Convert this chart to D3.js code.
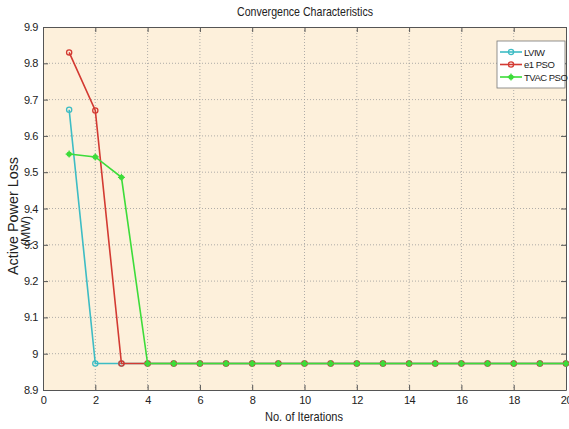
<!DOCTYPE html>
<html>
<head>
<meta charset="utf-8">
<script src="https://cdn.jsdelivr.net/npm/d3@7"></script>
<style>
  body { margin: 0; background: #fff; }
  text { font-family: 'Liberation Sans', Arial, sans-serif; fill: #222; }
</style>
</head>
<body>
<svg id="chart" width="569" height="429"></svg>
<script>
// 迭代次数
var iterations = d3.range(1, 21);
// 各算法的有功损耗
var lviw  = [9.672, 8.973, 8.973, 8.973, 8.973, 8.973, 8.973, 8.973, 8.973, 8.973,
             8.973, 8.973, 8.973, 8.973, 8.973, 8.973, 8.973, 8.973, 8.973, 8.973];
var e1pso = [9.830, 9.670, 8.973, 8.973, 8.973, 8.973, 8.973, 8.973, 8.973, 8.973,
             8.973, 8.973, 8.973, 8.973, 8.973, 8.973, 8.973, 8.973, 8.973, 8.973];
var tvac  = [9.550, 9.542, 9.486, 8.973, 8.973, 8.973, 8.973, 8.973, 8.973, 8.973,
             8.973, 8.973, 8.973, 8.973, 8.973, 8.973, 8.973, 8.973, 8.973, 8.973];
var seriesNames = ['LVIW', 'e1 PSO', 'TVAC PSO'];
var xTicks = d3.range(0, 21, 2);
var yTicks = [8.9, 9, 9.1, 9.2, 9.3, 9.4, 9.5, 9.6, 9.7, 9.8, 9.9];

var svg = d3.select('#chart');
var pL = 43, pR = 566, pT = 27, pB = 390;

var x = d3.scaleLinear().domain([0, 20]).range([pL, pR]);
var y = d3.scaleLinear().domain([8.9, 9.9]).range([pB, pT]);

var series = [
    {name: seriesNames[0], values: lviw, color: '#3dbcc4', marker: 'o'},
    {name: seriesNames[1], values: e1pso, color: '#d33a32', marker: 'o'},
    {name: seriesNames[2], values: tvac, color: '#3ddc3a', marker: '*'}
];

// 绘图区背景
svg.append('rect')
    .attr('x', pL).attr('y', pT)
    .attr('width', pR - pL).attr('height', pB - pT)
    .attr('fill', '#fdf0db');

// 网格线
var grid = svg.append('g');
grid.selectAll('.gx').data(xTicks.slice(1, -1)).enter().append('line')
    .attr('x1', function (d) { return x(d); }).attr('x2', function (d) { return x(d); })
    .attr('y1', pT).attr('y2', pB)
    .attr('stroke', '#9a9a9a').attr('stroke-width', 0.8)
    .attr('stroke-dasharray', '1,2');
grid.selectAll('.gy').data(yTicks.slice(1, -1)).enter().append('line')
    .attr('x1', pL).attr('x2', pR)
    .attr('y1', function (d) { return y(d); }).attr('y2', function (d) { return y(d); })
    .attr('stroke', '#9a9a9a').attr('stroke-width', 0.8)
    .attr('stroke-dasharray', '1,2');

// 坐标轴
var xAxis = d3.axisBottom(x).tickValues(xTicks).tickSizeInner(-5).tickSizeOuter(0).tickPadding(6);
var yAxis = d3.axisLeft(y).tickValues(yTicks).tickSizeInner(-5).tickSizeOuter(0).tickPadding(5)
    .tickFormat(function (d) { return String(+d.toFixed(1)); });
var xTop = d3.axisTop(x).tickValues(xTicks).tickSizeInner(-5).tickSizeOuter(0).tickFormat('');
var yRight = d3.axisRight(y).tickValues(yTicks).tickSizeInner(-5).tickSizeOuter(0).tickFormat('');

function styleAxis(g) {
    g.select('.domain').attr('stroke', '#555');
    g.selectAll('.tick line').attr('stroke', '#555');
    g.selectAll('.tick text').attr('font-size', 11).attr('fill', '#222')
        .attr('font-family', "'Liberation Sans', Arial, sans-serif")
        .attr('letter-spacing', -0.4);
}
svg.append('g').attr('transform', 'translate(0,' + pB + ')').call(xAxis).call(styleAxis);
svg.append('g').attr('transform', 'translate(' + pL + ',0)').call(yAxis).call(styleAxis);
svg.append('g').attr('transform', 'translate(0,' + pT + ')').call(xTop).call(styleAxis);
svg.append('g').attr('transform', 'translate(' + pR + ',0)').call(yRight).call(styleAxis);

// 折线
var line = d3.line()
    .x(function (d, i) { return x(iterations[i]); })
    .y(function (d) { return y(d); });

function drawMarker(g, cx, cy, s) {
    if (s.marker === 'o') {
        g.append('circle').attr('cx', cx).attr('cy', cy).attr('r', 2.6)
            .attr('fill', 'none').attr('stroke', s.color).attr('stroke-width', 1.3);
    } else {
        g.append('circle').attr('cx', cx).attr('cy', cy).attr('r', 2.6)
            .attr('fill', s.color);
        g.append('path')
            .attr('d', 'M' + (cx - 3.5) + ',' + cy + 'H' + (cx + 3.5) + 'M' + cx + ',' + (cy - 3.5) + 'V' + (cy + 3.5))
            .attr('stroke', s.color).attr('stroke-width', 1.2);
    }
}

series.forEach(function (s) {
    var g = svg.append('g');
    g.append('path')
        .attr('d', line(s.values))
        .attr('fill', 'none')
        .attr('stroke', s.color)
        .attr('stroke-width', 1.6);
    s.values.forEach(function (v, i) {
        drawMarker(g, x(iterations[i]), y(v), s);
    });
});

// 图例
var lg = svg.append('g');
lg.append('rect').attr('x', 497).attr('y', 41).attr('width', 68).attr('height', 47)
    .attr('fill', '#fff').attr('stroke', '#777').attr('stroke-width', 0.8);
series.forEach(function (s, i) {
    var ly = 52 + i * 12.5;
    lg.append('line').attr('x1', 500).attr('x2', 522).attr('y1', ly).attr('y2', ly)
        .attr('stroke', s.color).attr('stroke-width', 1.6);
    drawMarker(lg, 511, ly, s);
    lg.append('text').attr('x', 524).attr('y', ly + 3.5)
        .attr('font-size', 9.5).attr('letter-spacing', -0.5)
        .text(s.name);
});

// 标题和轴标签
svg.append('text').attr('x', 305).attr('y', 16).attr('text-anchor', 'middle')
    .attr('font-size', 13).attr('textLength', 136).attr('lengthAdjust', 'spacingAndGlyphs')
    .text('Convergence Characteristics');
svg.append('text').attr('x', 304).attr('y', 421).attr('text-anchor', 'middle')
    .attr('font-size', 13).attr('textLength', 78).attr('lengthAdjust', 'spacingAndGlyphs')
    .text('No. of Iterations');
svg.append('text').attr('transform', 'translate(18,216) rotate(-90)').attr('text-anchor', 'middle')
    .attr('font-size', 14).attr('textLength', 118).attr('lengthAdjust', 'spacingAndGlyphs')
    .text('Active Power Loss');
svg.append('text').attr('transform', 'translate(30,231) rotate(-90)').attr('text-anchor', 'middle')
    .attr('font-size', 13).attr('textLength', 30).attr('lengthAdjust', 'spacingAndGlyphs')
    .text('(MW)');
</script>
</body>
</html>
